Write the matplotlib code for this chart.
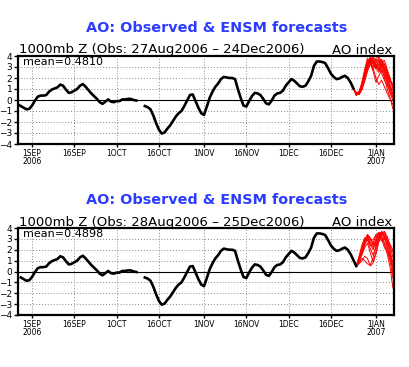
import numpy as np
import matplotlib
matplotlib.use('Agg')
import matplotlib.pyplot as plt

# days counted from 1 Sep 2006
obs_days = list(range(-5, 116))
obs_vals = [-0.4, -0.55, -0.7, -0.85, -0.8, -0.5, -0.05, 0.3, 0.4, 0.4,
            0.45, 0.75, 0.95, 1.05, 1.15, 1.4, 1.3, 0.95, 0.65, 0.7,
            0.85, 1.0, 1.3, 1.45, 1.2, 0.9, 0.6, 0.35, 0.1, -0.2,
            -0.35, -0.15, 0.05, -0.15, -0.2, -0.1, -0.1, 0.05, 0.05, 0.1,
            0.1, 0.0, -0.05, np.nan, np.nan, -0.55, -0.65, -0.85, -1.4, -2.1,
            -2.7, -3.05, -2.95, -2.6, -2.3, -1.9, -1.5, -1.2, -1.0, -0.55,
            -0.05, 0.45, 0.5, -0.1, -0.7, -1.2, -1.35, -0.6, 0.2, 0.75,
            1.2, 1.5, 1.9, 2.1, 2.05, 2.0, 2.0, 1.9, 1.0, 0.2,
            -0.5, -0.6, -0.1, 0.35, 0.65, 0.6, 0.45, 0.1, -0.3, -0.4,
            -0.05, 0.4, 0.6, 0.65, 0.85, 1.3, 1.6, 1.9, 1.75, 1.5,
            1.25, 1.2, 1.3, 1.7, 2.2, 3.1, 3.5, 3.5, 3.45, 3.35,
            2.9, 2.4, 2.1, 1.9, 1.95, 2.1, 2.2, 2.0, 1.6, 1.05,
            0.5]

# forecasts from 24Dec (panel 1) and 25Dec (panel 2)
fc1_days = list(range(114, 129))
fc1 = [
    [1.05, 0.6, 0.5, 1.1, 2.0, 3.0, 3.7, 3.4, 2.8, 3.1, 3.5, 2.6, 1.8, 1.2, 0.9],
    [1.05, 0.5, 0.7, 1.3, 2.3, 3.4, 3.9, 3.2, 3.0, 3.6, 3.2, 2.4, 1.5, 0.6, 0.0],
    [1.05, 0.55, 0.6, 1.0, 1.8, 2.8, 3.2, 3.6, 3.3, 2.7, 2.9, 3.3, 2.5, 1.7, 1.5],
    [1.05, 0.45, 0.8, 1.5, 2.6, 3.6, 3.3, 2.7, 3.4, 3.8, 3.0, 2.0, 1.0, 0.2, -0.8],
    [1.05, 0.7, 0.6, 1.2, 2.1, 2.9, 3.5, 3.8, 3.0, 2.5, 3.2, 2.9, 2.2, 1.4, 0.5],
    [1.05, 0.5, 0.5, 0.9, 1.7, 2.6, 3.3, 3.0, 3.7, 3.5, 2.6, 2.8, 2.0, 1.0, 0.3],
    [1.05, 0.65, 0.75, 1.4, 2.4, 3.2, 3.8, 3.5, 2.9, 3.3, 3.7, 3.2, 2.6, 2.0, 1.2],
    [1.05, 0.6, 0.55, 1.1, 2.2, 3.3, 3.6, 2.9, 2.0, 1.4, 1.8, 1.2, 0.6, 0.1, -0.4],
    [1.05, 0.5, 0.65, 1.2, 1.9, 3.0, 3.9, 3.7, 3.2, 2.8, 3.4, 3.6, 2.8, 1.9, 1.0],
    [1.05, 0.55, 0.7, 1.3, 2.5, 3.5, 3.4, 2.6, 1.6, 2.2, 2.7, 2.2, 1.6, 1.1, 0.6],
    [1.05, 0.4, 0.6, 1.6, 2.8, 3.8, 3.4, 3.9, 3.6, 3.0, 2.4, 1.8, 1.3, 0.8, 0.2],
    [1.05, 0.65, 0.5, 1.0, 2.0, 3.1, 3.6, 3.3, 3.8, 3.9, 3.5, 3.0, 2.3, 1.6, 1.4],
]
fc2_days = list(range(115, 129))
fc2 = [
    [0.5, 1.2, 2.1, 2.9, 3.3, 2.7, 2.2, 2.8, 3.5, 3.6, 3.0, 2.2, 1.2, 0.3],
    [0.5, 1.0, 1.8, 2.6, 3.4, 3.0, 2.4, 3.0, 3.6, 3.3, 2.5, 1.6, 0.4, -1.5],
    [0.5, 0.8, 1.2, 1.0, 0.7, 0.6, 1.3, 2.4, 3.2, 3.7, 3.4, 2.8, 2.2, 1.8],
    [0.5, 1.4, 2.4, 3.1, 3.0, 2.4, 2.6, 3.3, 3.6, 3.0, 2.2, 1.8, 1.0, -0.6],
    [0.5, 0.9, 1.5, 2.2, 2.6, 1.7, 0.9, 1.8, 2.9, 3.5, 3.2, 2.6, 1.9, 0.8],
    [0.5, 1.1, 2.0, 2.8, 3.4, 3.1, 2.6, 2.4, 3.0, 3.6, 3.3, 2.9, 2.5, 2.0],
    [0.5, 0.7, 1.0, 1.4, 1.2, 0.5, 0.8, 1.6, 2.7, 3.4, 3.6, 3.0, 1.8, -0.2],
    [0.5, 1.3, 2.2, 3.0, 3.2, 2.5, 2.0, 2.7, 3.4, 3.2, 2.6, 2.0, 1.4, 0.9],
    [0.5, 1.0, 1.6, 2.4, 3.1, 2.9, 2.9, 3.4, 3.1, 2.8, 3.1, 2.4, 1.5, 0.5],
    [0.5, 1.2, 1.9, 2.6, 2.9, 2.1, 1.5, 2.2, 3.0, 3.5, 3.7, 3.2, 2.4, 1.3],
]

tick_days = [0, 15, 30, 45, 61, 76, 91, 106, 122]
tick_labels = ['1SEP\n2006', '16SEP', '1OCT', '16OCT', '1NOV', '16NOV',
               '1DEC', '16DEC', '1JAN\n2007']

title = 'AO: Observed & ENSM forecasts'
subtitles = ['1000mb Z (Obs: 27Aug2006 \u2013 24Dec2006)',
             '1000mb Z (Obs: 28Aug2006 \u2013 25Dec2006)']
means = ['mean=0.4810', 'mean=0.4898']

W, H = 410, 367
fig = plt.figure(figsize=(W / 100, H / 100), dpi=100)


def panel(top, bottom, ttl_y, sub_y, ox, oy, fx, fy, sub, mean):
    ax = fig.add_axes([18 / W, 1 - bottom / H, 376 / W, (bottom - top) / H])
    ax.set_xlim(-5, 128.4)
    ax.set_ylim(-4, 4)
    ax.set_yticks(range(-4, 5))
    ax.set_xticks(tick_days)
    ax.set_xticklabels(tick_labels, fontsize=5.5, linespacing=0.9)
    ax.tick_params(axis='y', labelsize=6.5, length=3, width=1, pad=1)
    ax.tick_params(axis='x', length=2, width=1, pad=1.5)
    ax.grid(True, color='#888888', linestyle=(0, (1, 2)), linewidth=0.7)
    ax.axhline(0, color='black', linewidth=0.8)
    for s in ax.spines.values():
        s.set_linewidth(1.6)
    for m in fy:
        ax.plot(fx, m, color='red', linewidth=0.7)
    ax.plot(ox, oy, color='black', linewidth=1.9, solid_joinstyle='round')
    ax.text(0.013, 0.93, mean, transform=ax.transAxes, fontsize=8,
            va='center', ha='left')
    fig.text(217 / W, 1 - ttl_y / H, title, color='#2b3cff', fontsize=10.4,
             fontweight='bold', ha='center', va='center')
    fig.text(19 / W, 1 - sub_y / H, sub, fontsize=9.5, ha='left', va='center')
    fig.text(392 / W, 1 - sub_y / H, 'AO index', fontsize=9.5, ha='right',
             va='center')
    return ax


panel(56, 144, 28, 50, obs_days[:-1], obs_vals[:-1], fc1_days, fc1,
      subtitles[0], means[0])
panel(228, 315, 200, 222, obs_days[1:], obs_vals[1:], fc2_days, fc2,
      subtitles[1], means[1])

fig.savefig('out.png', dpi=100)
